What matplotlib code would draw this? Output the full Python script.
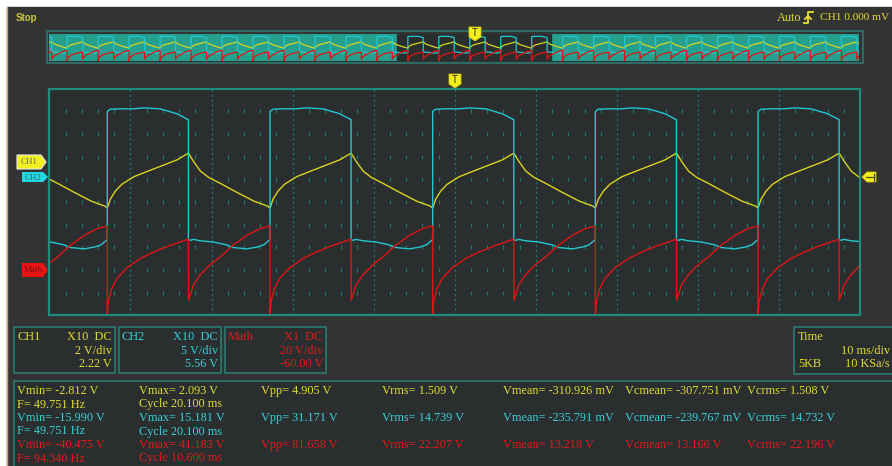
import numpy as np
import matplotlib
matplotlib.use("Agg")
import matplotlib.pyplot as plt
from matplotlib.patches import Rectangle, Polygon

W, H = 892, 466

ch1_fase = [0.0, 0.4, 1.0, 1.8, 3.3, 5.0, 7.0, 8.6, 9.9, 10.0, 10.7, 11.5, 12.5, 14.0, 15.8, 18.1, 19.75]
ch1_volt = [-2.75, -1.94, -1.25, -0.65, 0.02, 0.5, 1.05, 1.5, 2.05, 2.09, 1.29, 0.5, -0.05, -0.6, -1.3, -2.15, -2.58]

ch2_fase = [0.0, 0.0, 0.35, 1.5, 3.2, 4.5, 6.5, 7.3, 8.6, 9.8, 10.0, 10.0, 10.3, 10.6, 11.4, 13.1, 14.7, 15.5, 17.2, 18.5, 19.3, 19.95]
ch2_volt = [-14.0, 14.4, 14.9, 15.0, 15.0, 15.2, 15.0, 14.6, 13.9, 12.8, 12.6, -13.9, -14.0, -13.8, -14.1, -14.4, -15.0, -15.6, -15.9, -15.5, -15.0, -14.0]

math_fase = [0.0, 0.0, 0.12, 0.54, 1.16, 2.4, 4.04, 5.7, 7.74, 9.8, 10.0, 10.02, 10.6, 11.4, 12.6, 13.9, 15.5, 17.2, 18.8, 19.9]
math_volt = [38.8, -40.3, -28.3, -16.5, -7.7, 1.7, 10.0, 15.8, 21.7, 26.7, 27.0, -26.8, -13.6, -4.8, 4.1, 11.4, 21.7, 30.5, 36.4, 38.7]

periodo_ms = 20.06
primer_flanco_ms = 7.15

# escala (V/div) y offset (V) de cada canal
ch1_escala, ch1_offset = 2, 2.22
ch2_escala, ch2_offset = 5, 5.56
math_escala, math_offset = 20, -60.0

# ventana del buffer completo (ms) que muestra la barra de arriba
barra_ini, barra_fin = -225.3, 299.6

canales = ["CH1", "CH2", "Math"]
sondas = ["X10  DC", "X10  DC", "X1  DC"]
escalas_txt = ["2 V/div", "5 V/div", "20 V/div"]
offsets_txt = ["2.22 V", "5.56 V", "-60.00 V"]

medidas = [
    ["Vmin= -2.812 V", "Vmax= 2.093 V", "Vpp= 4.905 V", "Vrms= 1.509 V",
     "Vmean= -310.926 mV", "Vcmean= -307.751 mV", "Vcrms= 1.508 V"],
    ["Vmin= -15.990 V", "Vmax= 15.181 V", "Vpp= 31.171 V", "Vrms= 14.739 V",
     "Vmean= -235.791 mV", "Vcmean= -239.767 mV", "Vcrms= 14.732 V"],
    ["Vmin= -40.475 V", "Vmax= 41.183 V", "Vpp= 81.658 V", "Vrms= 22.207 V",
     "Vmean= 13.218 V", "Vcmean= 13.166 V", "Vcrms= 22.196 V"],
]
frecuencias = [["F= 49.751 Hz", "Cycle 20.100 ms"],
               ["F= 49.751 Hz", "Cycle 20.100 ms"],
               ["F= 94.340 Hz", "Cycle 10.600 ms"]]

c_traza = ["#d8d420", "#22c8d2", "#e01414"]
c_texto = ["#e0dc34", "#38d0d8", "#e21a1a"]
c_panel = "#333333"
c_pantalla = "#2a2e2e"
c_marco = "#1f8c7e"
c_grid = "#1f7a6e"
serif = "Liberation Serif"
fs = 8.8

plt.rcParams["lines.scale_dashes"] = False


def repetir(fase, volt, t_ini, t_fin):
    k0 = int(np.floor((t_ini - primer_flanco_ms) / periodo_ms)) - 1
    k1 = int(np.ceil((t_fin - primer_flanco_ms) / periodo_ms)) + 1
    ks = range(k0, k1)
    t = np.concatenate([primer_flanco_ms + k * periodo_ms + np.array(fase) for k in ks])
    v = np.tile(np.array(volt), len(ks))
    return t, v


def a_div(v, escala, offset):
    return (v + offset) / escala


def ejes_px(x0, y0, x1, y1, z):
    ax = fig.add_axes([x0 / W, 1 - y1 / H, (x1 - x0) / W, (y1 - y0) / H])
    ax.set_zorder(z)
    return ax


fig = plt.figure(figsize=(W / 100, H / 100), dpi=100, facecolor="white")

# fondo en pixeles
bg = fig.add_axes([0, 0, 1, 1])
bg.set_zorder(0)
bg.set_xlim(0, W)
bg.set_ylim(H, 0)
bg.axis("off")
bg.add_patch(Rectangle((7, 7), W, H, color=c_panel))
bg.plot([7, 7], [7, H], color="#c8a478", lw=1)

bg.text(16, 18, "Stop", color="#c8c83c", fontsize=7, fontweight="bold",
        family="Liberation Sans", va="center")
bg.text(777, 18, "Auto", color="#e0dc34", fontsize=fs, family=serif, va="center")
bg.plot([804, 808, 808, 813], [23, 23, 12, 12], color="#e8e030", lw=1.3)
bg.plot([805, 808, 811], [19, 16, 19], color="#e8e030", lw=1.3)
bg.text(820, 18, "CH1 0.000 mV", color="#e0dc34", fontsize=8.2, family=serif, va="center")

# cajas de canal
cajas = [(14, 115), (119, 221), (225, 326)]
for i, (x0, x1) in enumerate(cajas):
    bg.add_patch(Rectangle((x0, 327), x1 - x0, 46, facecolor=c_pantalla,
                           edgecolor="#2a8078", lw=1.1))
    bg.text(x0 + 3, 337, canales[i], color=c_texto[i], fontsize=fs, family=serif, va="center")
    bg.text(x1 - 3, 337, sondas[i], color=c_texto[i], fontsize=fs, family=serif,
            va="center", ha="right")
    bg.text(x1 - 3, 351, escalas_txt[i], color=c_texto[i], fontsize=fs, family=serif,
            va="center", ha="right")
    bg.text(x1 - 3, 364, offsets_txt[i], color=c_texto[i], fontsize=fs, family=serif,
            va="center", ha="right")

bg.add_patch(Rectangle((794, 327), 120, 47, facecolor=c_pantalla, edgecolor="#2a8078", lw=1.1))
bg.text(798, 337, "Time", color=c_texto[0], fontsize=fs, family=serif, va="center")
bg.text(890, 351, "10 ms/div", color=c_texto[0], fontsize=fs, family=serif,
        va="center", ha="right")
bg.text(798, 364, "5KB", color=c_texto[0], fontsize=fs, family=serif, va="center")
bg.text(890, 364, "10 KSa/s", color=c_texto[0], fontsize=fs, family=serif,
        va="center", ha="right")

# medidas
bg.add_patch(Rectangle((14, 381), 900, 100, facecolor=c_pantalla, edgecolor="#2a8078", lw=1.1))
cols = [17, 139, 261, 382, 503, 625, 747]
for i in range(3):
    y = 391 + i * 27
    for j, txt in enumerate(medidas[i]):
        bg.text(cols[j], y, txt, color=c_texto[i], fontsize=fs, family=serif, va="center")
    for j, txt in enumerate(frecuencias[i]):
        bg.text(cols[j], y + 13.5, txt, color=c_texto[i], fontsize=fs, family=serif, va="center")

# pantalla principal
ax = ejes_px(49.3, 88.7, 860.3, 315.3, 1)
ax.set_facecolor(c_pantalla)
ax.set_xlim(0, 100)
ax.set_ylim(-5, 5)
ax.set_xticks([])
ax.set_yticks([])
for s in ax.spines.values():
    s.set_visible(False)

for xm in range(10, 100, 10):
    ax.axvline(xm, color=c_grid, lw=0.9, ls=(0, (1.5, 2.0)))
xs_min = [x for x in range(2, 100, 2) if x % 10 != 0]
for yv in range(-4, 5):
    ax.plot(xs_min, [yv] * len(xs_min), ls="none", marker="|", ms=2.2, mew=0.8, color=c_grid)

t1, v1 = repetir(ch1_fase, ch1_volt, 0, 100)
t2, v2 = repetir(ch2_fase, ch2_volt, 0, 100)
t3, v3 = repetir(math_fase, math_volt, 0, 100)
ax.plot(t1, a_div(v1, ch1_escala, ch1_offset), color=c_traza[0], lw=1.0, zorder=3)
ax.plot(t2, a_div(v2, ch2_escala, ch2_offset), color=c_traza[1], lw=1.0, zorder=4)
ax.plot(t3, a_div(v3, math_escala, math_offset), color=c_traza[2], lw=1.0, zorder=5)

# barra con todo el buffer
bar = ejes_px(49, 34, 859.3, 61, 1)
bar.set_facecolor("#26a08e")
bar.set_xlim(barra_ini, barra_fin)
bar.set_ylim(-5, 5)
bar.set_xticks([])
bar.set_yticks([])
for s in bar.spines.values():
    s.set_visible(False)
bar.axvspan(0, 100, color=c_pantalla, zorder=0)
bt1, bv1 = repetir(ch1_fase, ch1_volt, barra_ini, barra_fin)
bt2, bv2 = repetir(ch2_fase, ch2_volt, barra_ini, barra_fin)
bt3, bv3 = repetir(math_fase, math_volt, barra_ini, barra_fin)
bar.plot(bt1, a_div(bv1, ch1_escala, ch1_offset), color=c_traza[0], lw=0.9, zorder=3)
bar.plot(bt2, a_div(bv2, ch2_escala, ch2_offset), color=c_traza[1], lw=0.9, zorder=4)
bar.plot(bt3, a_div(bv3, math_escala, math_offset), color=c_traza[2], lw=0.9, zorder=5)

# marcos y marcadores encima
top = fig.add_axes([0, 0, 1, 1])
top.set_zorder(2)
top.patch.set_visible(False)
top.set_xlim(0, W)
top.set_ylim(H, 0)
top.axis("off")
top.add_patch(Rectangle((49.3, 88.7), 811, 226.6, fill=False, edgecolor=c_marco, lw=1.6))
top.add_patch(Rectangle((46.5, 31), 816, 32, fill=False, edgecolor="#2c6a63", lw=1.5))

top.add_patch(Polygon([(17, 155), (41, 155), (46, 162), (41, 169), (17, 169)],
                      facecolor="#f0f020", edgecolor="#e8e8e8", lw=0.8))
top.text(29, 162.5, "CH1", fontsize=6.5, family=serif, color="#707070", ha="center", va="center")
top.add_patch(Polygon([(22, 172), (43, 172), (48, 177), (43, 182), (22, 182)],
                      facecolor="#22d8e2", edgecolor="none"))
top.text(33, 177.5, "CH2", fontsize=6.5, family=serif, color="#2a7070", ha="center", va="center")
top.add_patch(Polygon([(22, 263), (43, 263), (48, 270), (43, 277), (22, 277)],
                      facecolor="#e81414", edgecolor="none"))
top.text(33, 270.5, "Math", fontsize=6.5, family=serif, color="#801010", ha="center", va="center")

for (x0, y0) in [(449, 74), (469, 27)]:
    top.add_patch(Polygon([(x0, y0), (x0 + 12, y0), (x0 + 12, y0 + 10), (x0 + 6, y0 + 14), (x0, y0 + 10)],
                          facecolor="#f4f020", edgecolor="#c8c010", lw=0.6))
    top.text(x0 + 6, y0 + 6, "T", fontsize=7, family="Liberation Sans", color="#303020",
             ha="center", va="center")

top.add_patch(Polygon([(862, 177), (867, 172), (876, 172), (876, 182), (867, 182)],
                      facecolor="#f4f020", edgecolor="#c8c010", lw=0.6))
top.plot([866, 874], [177, 177], color="#505020", lw=0.9)
top.plot([874, 874], [173.5, 180.5], color="#505020", lw=0.9)

fig.savefig("out.png", dpi=100, facecolor=fig.get_facecolor())
